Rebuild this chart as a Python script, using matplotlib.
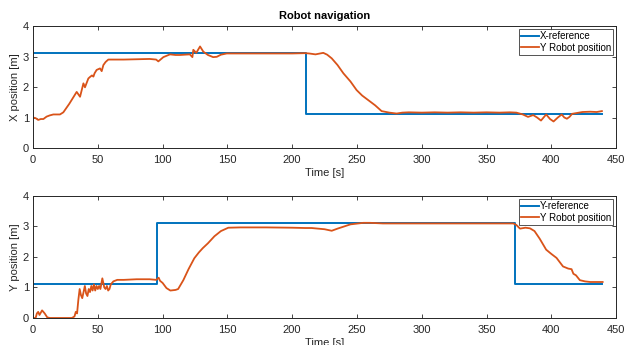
import matplotlib.pyplot as plt
import numpy as np

plt.rcParams["font.family"] = ["Liberation Sans", "DejaVu Sans"]

BLUE = "#0072BD"
ORANGE = "#D95319"

# reference steps (time, value)
x_ref_t = [0, 211, 211, 439]
x_ref_v = [3.1, 3.1, 1.1, 1.1]
y_ref_t = [0, 96, 96, 372, 372, 439]
y_ref_v = [1.1, 1.1, 3.1, 3.1, 1.1, 1.1]

# robot position
x_rob_t = [0, 2, 4, 6, 8, 10.5, 13, 15.7, 20.8, 23.4, 28, 33.7, 36.3, 38.9, 40.1,
           42.7, 44, 45.5, 46.6, 47.5, 49.1, 51.7, 53, 54.3, 56, 58.1, 60.7, 70,
           80, 90, 95, 96.7, 100.6, 105.7, 110, 113.4, 117, 121, 123, 123.7, 126,
           128.9, 131.4, 135, 139, 141.8, 145, 149.5, 160, 180, 200, 210, 213,
           218, 224, 227, 230.5, 235, 239.5, 245, 249.7, 254, 258.7, 264, 269,
           275, 280.6, 285, 290, 300, 310, 320, 330, 340, 350, 360, 368, 373,
           378, 382, 386, 389, 392, 396, 399, 401.7, 405, 408, 410, 412, 414,
           416, 420, 424, 430, 435, 439]
x_rob_v = [1.0, 0.98, 0.92, 0.95, 0.95, 1.03, 1.07, 1.1, 1.1, 1.17, 1.45, 1.84,
           1.68, 2.12, 1.99, 2.28, 2.33, 2.38, 2.34, 2.45, 2.56, 2.61, 2.52, 2.72,
           2.82, 2.9, 2.9, 2.9, 2.91, 2.92, 2.9, 2.84, 2.98, 3.07, 3.05, 3.05,
           3.06, 3.07, 2.98, 3.22, 3.12, 3.33, 3.16, 3.05, 2.98, 2.99, 3.06, 3.1,
           3.1, 3.1, 3.1, 3.11, 3.1, 3.07, 3.12, 3.06, 2.94, 2.72, 2.45, 2.18,
           1.9, 1.72, 1.57, 1.4, 1.21, 1.16, 1.13, 1.16, 1.17, 1.16, 1.17, 1.16,
           1.17, 1.16, 1.17, 1.16, 1.17, 1.16, 1.1, 1.02, 1.08, 1.0, 0.9, 1.1,
           0.95, 0.87, 1.0, 1.1, 1.0, 0.96, 1.02, 1.12, 1.15, 1.18, 1.19, 1.18,
           1.21]

y_rob_t = [0, 2, 3, 4, 5, 7, 9, 11, 13, 20, 30, 32, 33, 34, 35, 36, 37, 38, 39,
           40, 41, 42, 43, 44, 45, 46, 47, 48, 49, 50, 51, 52, 53.5, 54.5, 55, 56,
           57, 58, 59, 60, 62, 65, 70, 80, 90, 95, 97, 98, 100, 103, 106, 110,
           112, 116, 120, 124.5, 128, 131, 135, 140, 145, 150.7, 160, 180, 200,
           210, 215, 220, 225, 230.5, 235, 240, 245, 255, 260, 270, 300, 340,
           370.6, 373, 375.8, 380, 383.5, 387, 391, 396, 400, 404, 409, 413,
           415.6, 417, 419, 422, 426, 430, 435, 439.6]
y_rob_v = [0, 0, 0.15, 0.2, 0.1, 0.25, 0.15, 0.02, 0, 0, 0, 0.05, 0.2, 0.15,
           0.6, 0.95, 0.75, 0.65, 0.85, 1.05, 0.8, 0.72, 0.95, 0.85, 1.05, 0.9,
           1.1, 0.9, 1.05, 0.95, 1.05, 0.95, 1.3, 1.1, 1.0, 0.95, 1.05, 0.9, 0.95,
           1.1, 1.2, 1.25, 1.25, 1.27, 1.27, 1.25, 1.32, 1.22, 1.15, 0.98, 0.9,
           0.92, 0.95, 1.24, 1.6, 1.96, 2.15, 2.29, 2.45, 2.68, 2.85, 2.96, 2.97,
           2.97, 2.96, 2.95, 2.95, 2.93, 2.91, 2.86, 2.93, 3.0, 3.07, 3.12, 3.12,
           3.1, 3.1, 3.1, 3.1, 3.05, 2.93, 2.96, 2.94, 2.85, 2.6, 2.24, 2.1, 1.97,
           1.69, 1.62, 1.6, 1.45, 1.4, 1.24, 1.2, 1.18, 1.18, 1.18]

fig = plt.figure(figsize=(6.3, 3.45), dpi=100)
ax1 = fig.add_axes([0.0524, 0.571, 0.9256, 0.3536])
ax2 = fig.add_axes([0.0524, 0.0783, 0.9256, 0.3536])

panels = [
    (ax1, x_ref_t, x_ref_v, "X-reference", x_rob_t, x_rob_v, "X position [m]"),
    (ax2, y_ref_t, y_ref_v, "Y-reference", y_rob_t, y_rob_v, "Y position [m]"),
]
for ax, rt, rv, rlab, pt, pv, ylab in panels:
    ax.plot(rt, rv, color=BLUE, lw=1.4, label=rlab)
    ax.plot(pt, pv, color=ORANGE, lw=1.3, label="Y Robot position")
    ax.set_xlim(0, 450)
    ax.set_ylim(0, 4)
    ax.set_xticks(np.arange(0, 451, 50))
    ax.set_yticks(np.arange(0, 5, 1))
    ax.tick_params(direction="in", top=True, right=True, labelsize=8,
                   length=3, width=0.6, colors="#262626")
    ax.tick_params(axis="x", pad=5)
    ax.tick_params(axis="y", pad=3)
    for s in ax.spines.values():
        s.set_linewidth(0.7)
        s.set_color("#262626")
    ax.set_xlabel("Time [s]", fontsize=8, labelpad=2, color="#262626")
    ax.set_ylabel(ylab, fontsize=8, labelpad=2, color="#262626")
    leg = ax.legend(loc="upper right", fontsize=7, frameon=True, fancybox=False,
                    edgecolor="#262626", handlelength=1.8, handletextpad=0.1,
                    borderpad=0.2, labelspacing=0.15, borderaxespad=0.35)
    leg.get_frame().set_linewidth(0.7)

ax1.set_title("Robot navigation", fontsize=8, fontweight="bold", pad=5)

fig.savefig("out.png", dpi=100)
